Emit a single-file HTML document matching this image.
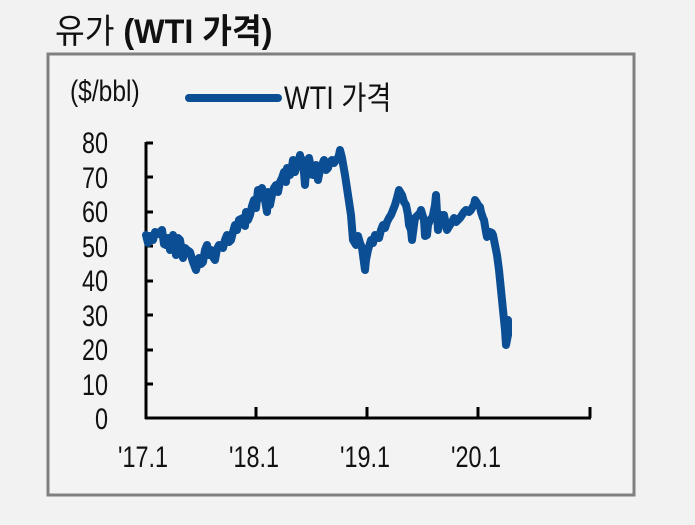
<!DOCTYPE html>
<html><head><meta charset="utf-8"><style>
body{margin:0;width:695px;height:525px;background:#f2f2f2;overflow:hidden}
svg{display:block}
text{font-family:"Liberation Sans","Noto Sans CJK KR",sans-serif;fill:#111}
</style></head><body>
<svg width="695" height="525" viewBox="0 0 695 525">
<rect x="0" y="0" width="695" height="525" fill="#f2f2f2"/>
<text x="55" y="43" font-size="34" font-weight="bold" transform="translate(55 0) scale(0.95 1) translate(-55 0)"><tspan font-weight="normal">유가</tspan> (WTI 가격)</text>
<rect x="48" y="54" width="586" height="441" fill="#f3f3f3" stroke="#808080" stroke-width="3"/>
<g transform="translate(70 0) scale(0.82 1) translate(-70 0)">
<text x="70" y="101" font-size="30">($/bbl)</text>
</g>
<line x1="189" y1="98" x2="278" y2="98" stroke="#0b4e94" stroke-width="8" stroke-linecap="round"/>
<g transform="translate(284 0) scale(0.85 1) translate(-284 0)">
<text x="284" y="109" font-size="32">WTI 가격</text>
</g>
<g font-size="30" text-anchor="end">
<g transform="translate(108 0) scale(0.78 1) translate(-108 0)">
<text x="108" y="153">80</text><text x="108" y="188">70</text><text x="108" y="222">60</text><text x="108" y="257">50</text><text x="108" y="291">40</text><text x="108" y="326">30</text><text x="108" y="360">20</text><text x="108" y="395">10</text><text x="108" y="429">0</text>
</g></g>
<g stroke="#000" stroke-width="3" fill="none">
<line x1="146" y1="142" x2="146" y2="419"/>
<line x1="145" y1="418" x2="591" y2="418"/>
<line x1="146" y1="143" x2="153" y2="143"/><line x1="146" y1="177" x2="153" y2="177"/><line x1="146" y1="212" x2="153" y2="212"/><line x1="146" y1="246" x2="153" y2="246"/><line x1="146" y1="281" x2="153" y2="281"/><line x1="146" y1="315" x2="153" y2="315"/><line x1="146" y1="350" x2="153" y2="350"/><line x1="146" y1="384" x2="153" y2="384"/>
<line x1="256" y1="407" x2="256" y2="418"/><line x1="367" y1="407" x2="367" y2="418"/><line x1="478" y1="407" x2="478" y2="418"/><line x1="590" y1="407" x2="590" y2="418"/>
</g>
<g font-size="30" text-anchor="middle">
<text x="143" y="467" transform="translate(143 0) scale(0.78 1) translate(-143 0)">'17.1</text>
<text x="254" y="467" transform="translate(254 0) scale(0.78 1) translate(-254 0)">'18.1</text>
<text x="365" y="467" transform="translate(365 0) scale(0.78 1) translate(-365 0)">'19.1</text>
<text x="476" y="467" transform="translate(476 0) scale(0.78 1) translate(-476 0)">'20.1</text>
</g>
<polyline fill="none" stroke="#0b4e94" stroke-width="8" stroke-linejoin="round" stroke-linecap="round" points="146,235 148,243 150,236 153,240 155,232 158,234 162,230 164,244 166,245 168,238 170,250 173,235 176,255 178,238 180,240 183,258 185,248 187,250 190,252 193,262 196,270 199,258 201,264 203,262 205,250 207,245 209,255 211,250 213,257 215,260 217,249 219,245 223,248 225,240 227,235 229,242 231,240 233,232 235,225 237,230 239,220 243,218 245,226 246,212 248,220 250,215 252,206 254,200 256,208 258,190 260,198 262,188 264,196 265,200 267,212 268,192 270,205 272,195 274,188 276,185 278,192 280,182 282,178 284,172 286,182 287,168 289,172 290,175 292,166 293,160 295,172 297,165 299,160 300,155 302,164 303,160 305,185 306,170 308,175 309,158 311,168 313,175 315,168 316,165 318,180 320,170 322,165 324,160 326,170 328,168 330,162 332,160 334,163 336,160 338,158 339,155 340,150 342,158 345,175 348,195 351,215 353,240 356,245 358,236 360,243 362,248 363,255 365,270 366,260 368,250 371,240 373,243 375,235 379,238 381,230 383,225 385,228 387,222 389,218 391,215 393,210 395,205 397,198 399,190 402,195 404,202 406,205 408,215 409,225 411,230 412,240 414,225 415,218 418,215 420,213 421,210 424,220 425,236 427,235 428,225 430,220 432,218 433,215 435,205 436,195 437,213 438,230 440,222 441,215 442,222 444,215 446,225 447,230 450,225 452,222 454,218 456,222 458,220 460,218 462,215 464,212 466,210 469,212 471,210 472,208 474,205 475,200 477,203 478,205 480,207 481,212 483,218 484,220 486,232 487,237 490,232 492,233 493,235 495,245 497,255 499,270 501,290 503,310 505,330 506,345 508,335 508,320"/>
</svg>
</body></html>
